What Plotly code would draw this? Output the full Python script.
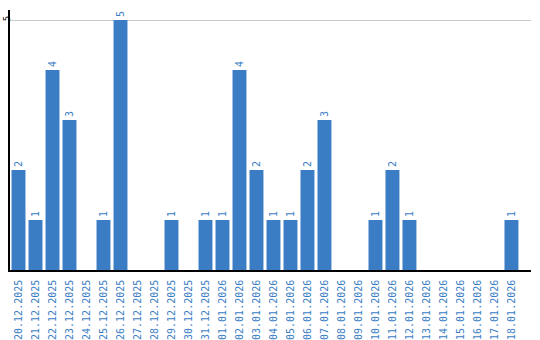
import plotly.graph_objects as go

dates = ["20.12.2025","21.12.2025","22.12.2025","23.12.2025","24.12.2025","25.12.2025",
         "26.12.2025","27.12.2025","28.12.2025","29.12.2025","30.12.2025","31.12.2025",
         "01.01.2026","02.01.2026","03.01.2026","04.01.2026","05.01.2026","06.01.2026",
         "07.01.2026","08.01.2026","09.01.2026","10.01.2026","11.01.2026","12.01.2026",
         "13.01.2026","14.01.2026","15.01.2026","16.01.2026","17.01.2026","18.01.2026"]
counts = [2,1,4,3,0,1,5,0,0,1,0,1,1,4,2,1,1,2,3,0,0,1,2,1,0,0,0,0,0,1]
labels = [str(v) if v > 0 else "" for v in counts]

blue = "#3b7dc4"
fig = go.Figure(go.Bar(
    x=dates, y=counts, text=labels, textposition="outside", textangle=-90,
    cliponaxis=False,
    textfont=dict(family="DejaVu Sans Mono", size=10, color=blue),
    marker=dict(color=blue, line=dict(width=0)),
    width=0.82,
))
fig.update_layout(
    width=540, height=340, margin=dict(l=10, r=9, t=10, b=70),
    plot_bgcolor="white", paper_bgcolor="white", showlegend=False,
)
fig.update_xaxes(
    type="category", range=[-0.5, 30.15], tickangle=-90, automargin=False,
    tickfont=dict(family="DejaVu Sans Mono", size=10, color=blue),
    showline=True, linecolor="black", linewidth=1.5, ticks="", showgrid=False,
    ticklabelstandoff=4,
)
fig.update_yaxes(
    range=[0, 5.2], tickvals=[5], ticktext=["5"], tickangle=-90, automargin=False,
    tickfont=dict(family="DejaVu Sans Mono", size=9, color="black"),
    showline=True, linecolor="black", linewidth=1.5, showgrid=True,
    gridcolor="#c8c8c8", gridwidth=1, zeroline=False, ticklabelstandoff=-5,
)
fig.write_html("out.html")
